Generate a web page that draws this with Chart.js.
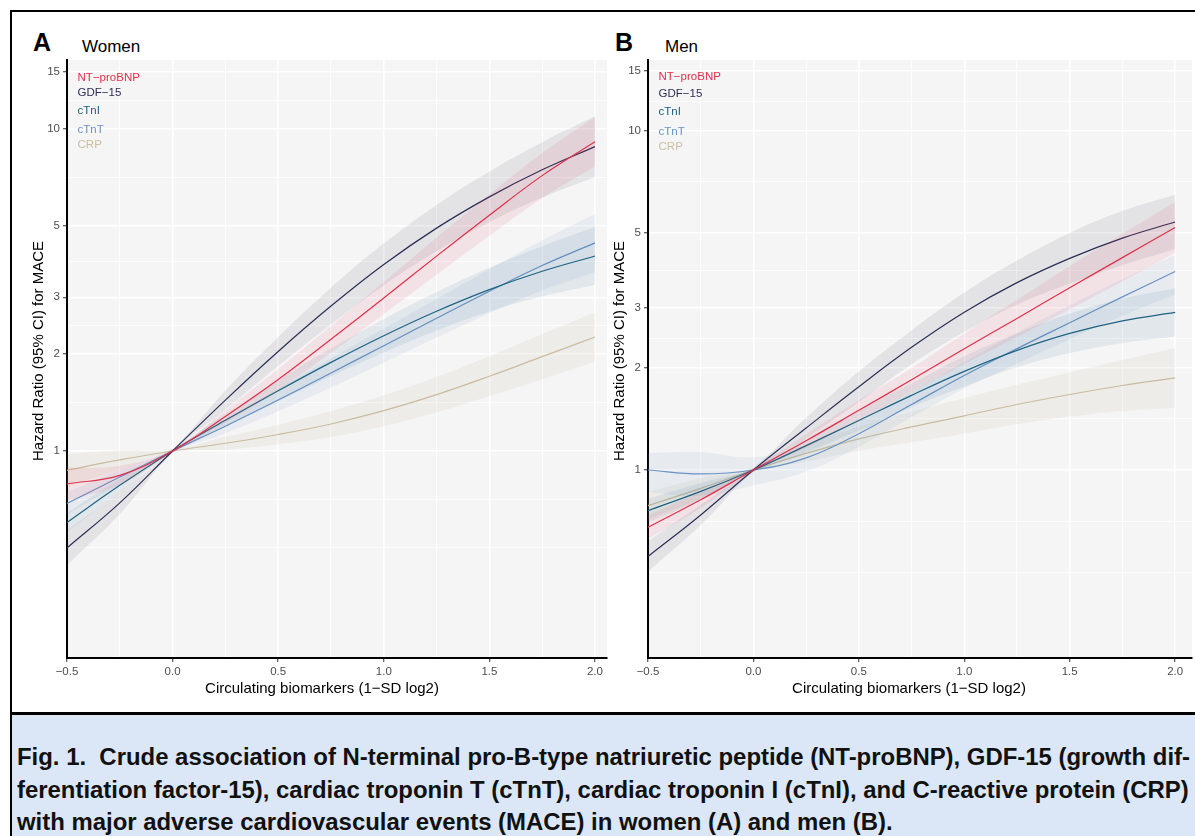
<!DOCTYPE html>
<html lang="en">
<head>
<meta charset="UTF-8">
<title>Fig. 1 – MACE by biomarker</title>
<script src="https://cdn.jsdelivr.net/npm/chart.js@4.4.1/dist/chart.umd.min.js"></script>
<style>
  body { margin: 0; width: 1195px; height: 836px; overflow: hidden; position: relative; background: #fff;
         font-family: "Liberation Sans", Arial, sans-serif; }
  .frame { position: absolute; left: 10px; top: 10px; width: 1200px; height: 700px;
           border-top: 2px solid #000; border-bottom: 3px solid #000; }
  .leftline { position: absolute; left: 10px; top: 10px; width: 2px; height: 830px; background: #000; }
  .caption { position: absolute; left: 12px; top: 715px; width: 1183px; height: 121px; background: #dbe7f7; }
  .caption-text { position: absolute; left: 5px; top: 26px; transform-origin: 0 0; white-space: nowrap;
                  font-family: "Liberation Sans", Arial, sans-serif;
                  font-weight: bold; font-size: 23px; line-height: 32.5px; color: #111; }
  .letter { position: absolute; font-weight: bold; font-size: 25px; line-height: 25px; color: #000; }
  .sub { position: absolute; font-size: 17px; line-height: 17px; color: #000; }
  canvas { position: absolute; }
</style>
</head>
<body>
<div class="frame"></div>
<div class="leftline"></div>

<div class="letter" style="left:33px; top:30px;">A</div>
<div class="sub" style="left:82px; top:38px;">Women</div>
<div class="letter" style="left:615px; top:30px;">B</div>
<div class="sub" style="left:665px; top:38px;">Men</div>

<canvas id="chartA" width="596" height="660" style="left:12px; top:50px;"></canvas>
<canvas id="chartB" width="602" height="660" style="left:593px; top:50px;"></canvas>

<div class="caption">
  <div class="caption-text" id="captionText">
    <span id="capLine1">Fig. 1.&nbsp; Crude association of N-terminal pro-B-type natriuretic peptide (NT-proBNP), GDF-15 (growth dif-</span><br>
    <span>ferentiation factor-15), cardiac troponin T (cTnT), cardiac troponin I (cTnI), and C-reactive protein (CRP)</span><br>
    <span>with major adverse cardiovascular events (MACE) in women (A) and men (B).</span>
  </div>
</div>

<script>
// x grid of the spline estimates (1-SD log2 units)
const xGrid = [-0.5, -0.25, 0, 0.25, 0.5, 0.75, 1, 1.25, 1.5, 1.75, 2];

const markerNames = ['NT−proBNP', 'GDF−15', 'cTnI', 'cTnT', 'CRP'];
const labelY = [14.4, 12.9, 11.4, 9.95, 8.95];   // where the in-plot labels sit (HR)
const labelX = -0.45;

const xTitle = 'Circulating biomarkers (1−SD log2)';
const yTitle = 'Hazard Ratio (95% CI) for MACE';

// axis breaks
const yTicks = [1, 2, 3, 5, 10, 15];
const yMinor = [0.5, 0.7071, 1.4142, 2.4495, 3.873, 7.0711, 12.247];
const xTicks = [-0.5, 0, 0.5, 1, 1.5, 2];
const xMinor = [-0.25, 0.25, 0.75, 1.25, 1.75];

// ---- Women (hazard ratio, lower, upper) ----
const womenNT   = [0.79, 0.84, 1, 1.28, 1.667, 2.223, 2.985, 4.027, 5.395, 7.161, 9.12];
const womenNTLo = [0.702, 0.784, 0.989, 1.222, 1.545, 2.018, 2.660, 3.523, 4.656, 6.095, 7.638];
const womenNTHi = [0.888, 0.900, 1.012, 1.340, 1.799, 2.449, 3.349, 4.602, 6.252, 8.413, 10.89];

const womenGDF   = [0.50, 0.69, 1, 1.439, 2.037, 2.818, 3.793, 4.92, 6.152, 7.464, 8.81];
const womenGDFLo = [0.442, 0.637, 0.989, 1.343, 1.836, 2.472, 3.266, 4.168, 5.129, 6.123, 7.095];
const womenGDFHi = [0.566, 0.748, 1.012, 1.542, 2.259, 3.213, 4.405, 5.807, 7.379, 9.099, 10.94];

const womenTnI   = [0.60, 0.782, 1, 1.245, 1.538, 1.884, 2.28, 2.716, 3.17, 3.614, 4.03];
const womenTnILo = [0.560, 0.747, 0.989, 1.189, 1.426, 1.706, 2.023, 2.365, 2.711, 3.020, 3.276];
const womenTnIHi = [0.643, 0.819, 1.012, 1.304, 1.659, 2.080, 2.570, 3.118, 3.707, 4.325, 4.958];

const womenTnT   = [0.687, 0.83, 1, 1.194, 1.439, 1.746, 2.123, 2.582, 3.133, 3.767, 4.426];
const womenTnTLo = [0.634, 0.789, 0.989, 1.135, 1.328, 1.574, 1.879, 2.249, 2.679, 3.148, 3.597];
const womenTnTHi = [0.745, 0.873, 1.012, 1.256, 1.560, 1.937, 2.399, 2.965, 3.664, 4.508, 5.445];

const womenCRP   = [0.871, 0.938, 1, 1.057, 1.125, 1.213, 1.334, 1.496, 1.706, 1.963, 2.259];
const womenCRPLo = [0.776, 0.875, 0.989, 1.009, 1.050, 1.106, 1.194, 1.318, 1.479, 1.671, 1.892];
const womenCRPHi = [0.977, 1.005, 1.012, 1.107, 1.205, 1.330, 1.490, 1.698, 1.968, 2.306, 2.697];

// ---- Men ----
const menNT   = [0.678, 0.817, 1, 1.22, 1.50, 1.845, 2.28, 2.80, 3.45, 4.23, 5.19];
const menNTLo = [0.626, 0.771, 0.989, 1.165, 1.400, 1.702, 2.056, 2.467, 2.977, 3.600, 4.367];
const menNTHi = [0.735, 0.865, 1.012, 1.277, 1.607, 2.000, 2.529, 3.178, 3.998, 4.970, 6.168];

const menGDF   = [0.556, 0.737, 1, 1.33, 1.76, 2.30, 2.92, 3.57, 4.21, 4.83, 5.39];
const menGDFLo = [0.501, 0.688, 0.989, 1.241, 1.587, 2.050, 2.555, 3.074, 3.542, 4.017, 4.483];
const menGDFHi = [0.617, 0.790, 1.012, 1.425, 1.952, 2.581, 3.337, 4.146, 5.004, 5.807, 6.480];

const menTnI   = [0.759, 0.865, 1, 1.18, 1.40, 1.66, 1.954, 2.254, 2.529, 2.754, 2.917];
const menTnILo = [0.700, 0.817, 0.989, 1.127, 1.307, 1.532, 1.762, 2.009, 2.213, 2.371, 2.477];
const menTnIHi = [0.823, 0.916, 1.012, 1.236, 1.500, 1.799, 2.167, 2.529, 2.890, 3.199, 3.435];

const menTnT   = [1.0, 0.974, 1, 1.086, 1.28, 1.56, 1.90, 2.28, 2.72, 3.24, 3.85];
const menTnTLo = [0.86, 0.84, 0.90, 0.99, 1.17, 1.43, 1.74, 2.06, 2.43, 2.85, 3.30];
const menTnTHi = [1.12, 1.13, 1.09, 1.19, 1.40, 1.70, 2.08, 2.54, 3.06, 3.65, 4.31];

const menCRP   = [0.785, 0.883, 1, 1.12, 1.235, 1.34, 1.445, 1.56, 1.67, 1.775, 1.87];
const menCRPLo = [0.716, 0.824, 0.989, 1.057, 1.139, 1.208, 1.282, 1.365, 1.438, 1.494, 1.527];
const menCRPHi = [0.861, 0.946, 1.012, 1.186, 1.339, 1.486, 1.629, 1.783, 1.940, 2.110, 2.290];

// colours: NT-proBNP, GDF-15, cTnI, cTnT, CRP
const lineColors = ['#e0314b', '#2c2f56', '#1e6382', '#6a93c6', '#cbbea2'];
const bandColors = ['rgba(224,49,75,0.09)', 'rgba(44,47,86,0.085)', 'rgba(30,99,130,0.09)',
                    'rgba(106,147,198,0.10)', 'rgba(190,175,140,0.12)'];

const fontFamily = '"Liberation Sans", Arial, sans-serif';

function pts(arr) {
  return arr.map((v, i) => ({ x: xGrid[i], y: v }));
}

// three datasets per marker: lower edge, upper edge (filled to lower), estimate
function markerSets(series) {
  const out = [];
  series.forEach((s, i) => {
    out.push({ data: pts(s[1]), borderWidth: 0, pointRadius: 0, fill: false, tension: 0.4 });
    out.push({ data: pts(s[2]), borderWidth: 0, pointRadius: 0, fill: '-1',
               backgroundColor: bandColors[i], tension: 0.4 });
    out.push({ data: pts(s[0]), borderColor: lineColors[i], borderWidth: 1.2, pointRadius: 0,
               fill: false, tension: 0.4 });
  });
  return out;
}

const panelBg = {
  id: 'panelBg',
  beforeDraw(chart) {
    const a = chart.chartArea;
    const ctx = chart.ctx;
    ctx.save();
    ctx.fillStyle = '#f5f5f5';
    ctx.fillRect(a.left, a.top, a.right - a.left, a.bottom - a.top);
    ctx.restore();
  }
};

const seriesLabels = {
  id: 'seriesLabels',
  afterDatasetsDraw(chart) {
    const ctx = chart.ctx;
    const x = chart.scales.x, y = chart.scales.y;
    ctx.save();
    ctx.font = '11.5px ' + fontFamily;
    ctx.textBaseline = 'middle';
    ctx.textAlign = 'left';
    markerNames.forEach((name, i) => {
      ctx.fillStyle = lineColors[i];
      ctx.fillText(name, x.getPixelForValue(labelX), y.getPixelForValue(labelY[i]));
    });
    ctx.restore();
  }
};

// axis titles, drawn by hand so they can sit a little off the panel centre like the original
const axisTitles = {
  id: 'axisTitles',
  afterDraw(chart, args, opts) {
    const a = chart.chartArea;
    const ctx = chart.ctx;
    ctx.save();
    ctx.fillStyle = '#000';
    ctx.font = '15px ' + fontFamily;
    ctx.textAlign = 'center';
    ctx.textBaseline = 'middle';
    ctx.fillText(xTitle, (a.left + a.right) / 2 + opts.dx, chart.height - 21);
    ctx.translate(27, (a.top + a.bottom) / 2 + opts.dy);
    ctx.rotate(-Math.PI / 2);
    ctx.fillText(yTitle, 0, 0);
    ctx.restore();
  }
};

function makePanel(id, series, yMin, yMax, xMax, padRight, dx, dy) {
  new Chart(document.getElementById(id), {
    type: 'line',
    data: { datasets: markerSets(series) },
    plugins: [panelBg, seriesLabels, axisTitles],
    options: {
      responsive: false,
      animation: false,
      layout: { padding: { left: 0, right: padRight, top: 2, bottom: 0 } },
      plugins: {
        legend: { display: false },
        tooltip: { enabled: false },
        axisTitles: { dx: dx, dy: dy }
      },
      scales: {
        x: {
          type: 'linear',
          min: -0.5,
          max: xMax,
          afterBuildTicks: sc => { sc.ticks = xTicks.concat(xMinor).sort((a, b) => a - b).map(v => ({ value: v })); },
          afterFit: sc => { sc.height = 52; },
          border: { display: true, color: '#000', width: 2 },
          grid: {
            color: '#ffffff',
            lineWidth: c => (xTicks.includes(c.tick.value) ? 1.5 : 0.8),
            tickColor: c => (xTicks.includes(c.tick.value) ? '#333' : 'rgba(0,0,0,0)'),
            tickLength: 4,
            tickWidth: 1
          },
          ticks: {
            autoSkip: false,
            maxRotation: 0,
            padding: 3,
            color: '#4d4d4d',
            font: { family: fontFamily, size: 11.5 },
            callback: v => (xTicks.includes(v) ? v.toFixed(1).replace('-', '−') : '')
          }
        },
        y: {
          type: 'logarithmic',
          min: yMin,
          max: yMax,
          afterBuildTicks: sc => { sc.ticks = yTicks.concat(yMinor).sort((a, b) => a - b).map(v => ({ value: v })); },
          afterFit: sc => { sc.width = 55; },
          border: { display: true, color: '#000', width: 2 },
          grid: {
            color: '#ffffff',
            lineWidth: c => (yTicks.includes(c.tick.value) ? 1.5 : 0.8),
            tickColor: c => (yTicks.includes(c.tick.value) ? '#333' : 'rgba(0,0,0,0)'),
            tickLength: 4,
            tickWidth: 1
          },
          ticks: {
            autoSkip: false,
            padding: 3,
            color: '#4d4d4d',
            font: { family: fontFamily, size: 11.5 },
            callback: v => (yTicks.includes(v) ? String(v) : '')
          }
        }
      }
    }
  });
}

makePanel('chartA', [
  [womenNT, womenNTLo, womenNTHi],
  [womenGDF, womenGDFLo, womenGDFHi],
  [womenTnI, womenTnILo, womenTnIHi],
  [womenTnT, womenTnTLo, womenTnTHi],
  [womenCRP, womenCRPLo, womenCRPHi]
], 0.2276, 16.38, 2.057, 1, -15, -8);

makePanel('chartB', [
  [menNT, menNTLo, menNTHi],
  [menGDF, menGDFLo, menGDFHi],
  [menTnI, menTnILo, menTnIHi],
  [menTnT, menTnTLo, menTnTHi],
  [menCRP, menCRPLo, menCRPHi]
], 0.279, 16.2, 2.08, 3, -11, -8);

// stretch the caption so the first line spans the box like the printed figure
const capW = document.getElementById('capLine1').getBoundingClientRect().width;
document.getElementById('captionText').style.transform = 'scaleX(' + (1173 / capW) + ')';
</script>
</body>
</html>
